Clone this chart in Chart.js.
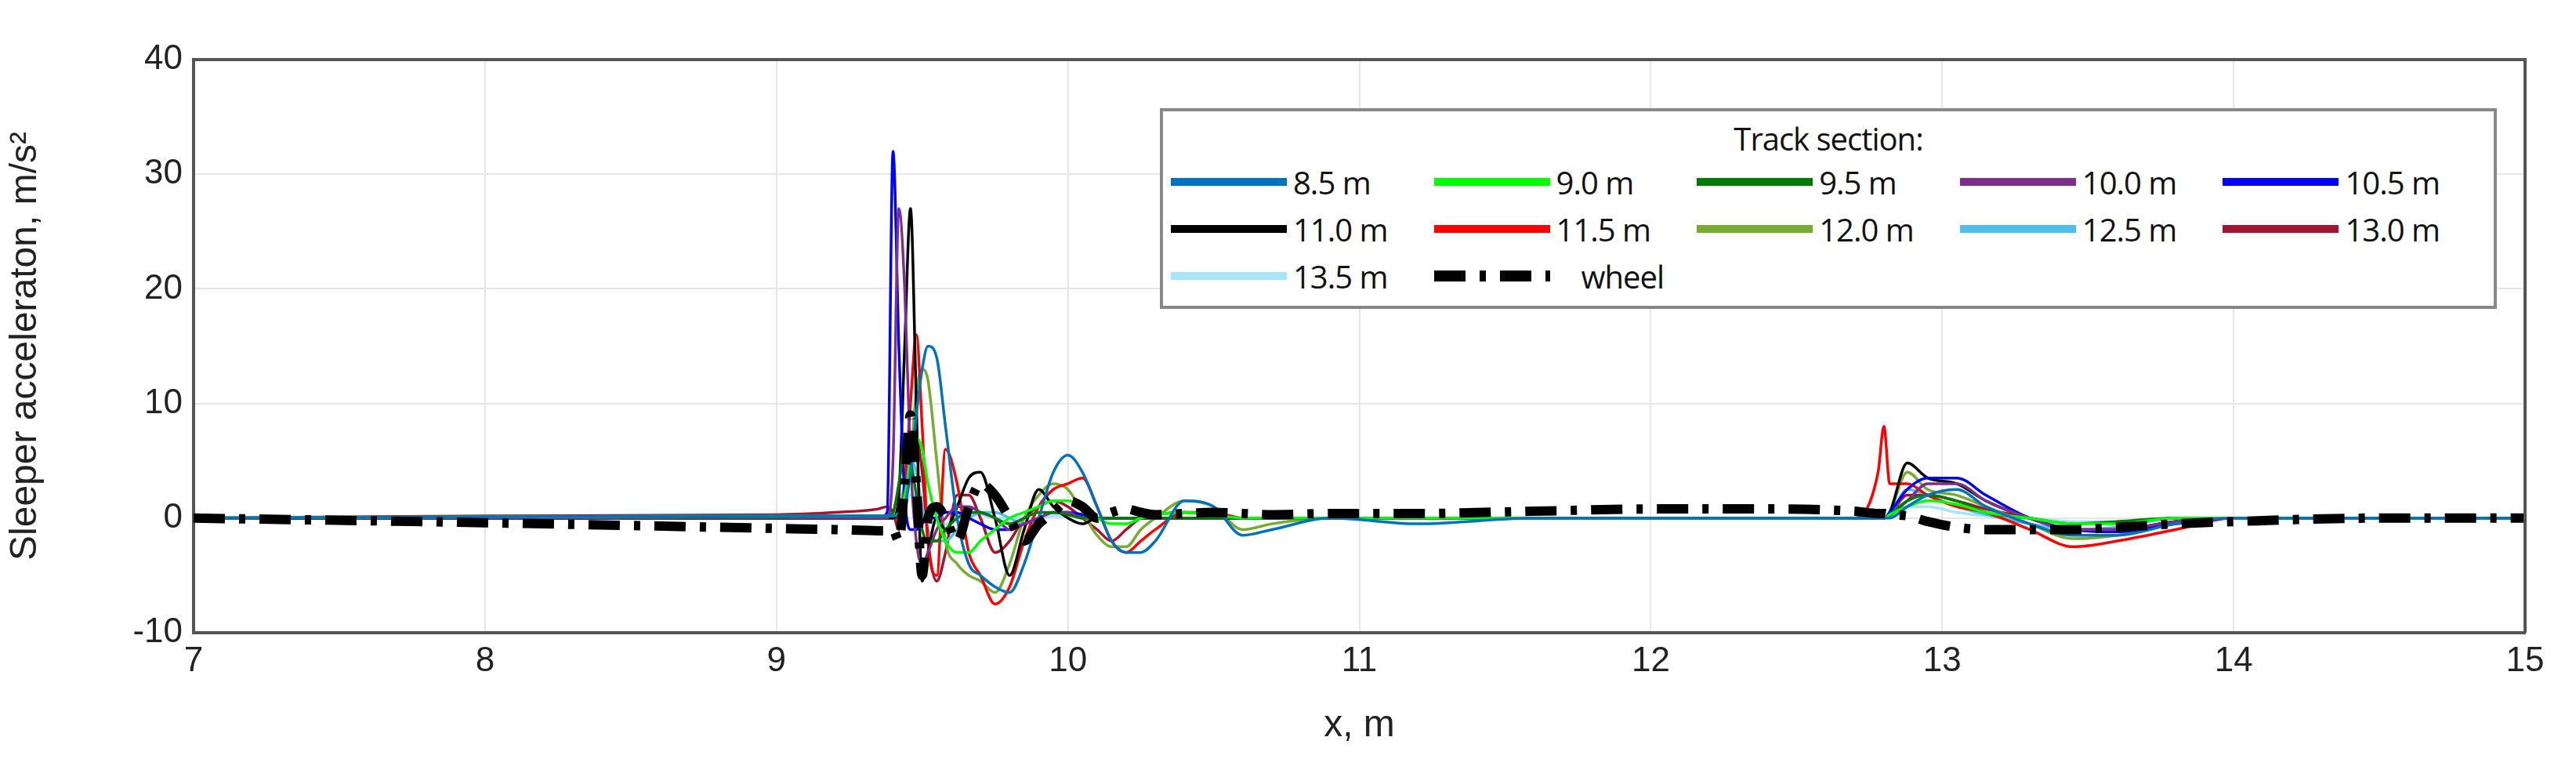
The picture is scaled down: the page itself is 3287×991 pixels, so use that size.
<!DOCTYPE html>
<html>
<head>
<meta charset="utf-8">
<script src="https://cdn.jsdelivr.net/npm/chart.js@4/dist/chart.umd.min.js"></script>
<style>
  html, body { margin: 0; padding: 0; background: #fff; }
  #wrap { position: relative; width: 3287px; height: 991px; }
  #legend {
    position: absolute; left: 1480px; top: 138px; width: 1706px; height: 256px;
    border: 4px solid #888; background: #fff; box-sizing: border-box;
    font-family: "Open Sans", sans-serif; font-size: 40px; color: #111; letter-spacing: -1px;
  }
  #legend .title { text-align: center; margin-top: 10px; height: 50px; line-height: 50px; }
  #legend .grid { display: grid; grid-template-columns: repeat(5, 1fr); padding: 0 10px; }
  #legend .item { display: flex; align-items: center; height: 60px; }
  #legend .sw { width: 148px; height: 10px; margin-right: 8px; }
</style>
</head>
<body>
<div id="wrap">
  <canvas id="chart" width="3287" height="991"></canvas>
  <div id="legend"><div class="title">Track section:</div><div class="grid" id="legend-grid"></div></div>
</div>
<script>
const xs = [7, 8, 9, 9.2, 9.35, 9.38, 9.4, 9.42, 9.44, 9.46, 9.48, 9.5, 9.52, 9.55, 9.58, 9.62, 9.66, 9.7, 9.75, 9.8, 9.85, 9.9, 9.95, 10.0, 10.05, 10.1, 10.15, 10.2, 10.25, 10.3, 10.4, 10.5, 10.6, 10.7, 10.9, 11.2, 11.6, 12.0, 12.4, 12.7, 12.78, 12.8, 12.82, 12.88, 12.95, 13.05, 13.15, 13.3, 13.45, 13.6, 13.8, 14.0, 14.5, 15];

const labels = ['8.5 m', '9.0 m', '9.5 m', '10.0 m', '10.5 m', '11.0 m', '11.5 m', '12.0 m', '12.5 m', '13.0 m', '13.5 m', 'wheel'];
const colors = ['#0072bd', '#00ff00', '#007a00', '#7e2f8e', '#0000ff', '#000000', '#ff0000', '#77ac30', '#4dbeee', '#a2142f', '#a8e4ff', '#000000'];

const s85  = [0, 0.1, 0.2, 0.2, 0.2, 0.2, 0.2, 0.3, 1, 4, 9, 13, 15, 14, 8, 0, -4, -5, -6, -6.5, -4, 0, 4, 5.5, 4, 1, -2, -3, -3, -2, 1.5, 1, -1.5, -1, 0, -0.5, 0, 0, 0, 0, 0, 0, 0, 1, 2, 2.5, 1, -0.5, -1.5, -1.5, -0.5, 0, 0, 0];
const s90  = [0, 0.1, 0.2, 0.2, 0.2, 0.2, 0.2, 0.5, 2, 5, 7, 6, 3, 0, -2, -3, -3, -2, -1, 0, 0.5, 1, 1.5, 1.5, 1, 0, -0.5, -0.5, 0, 0.3, 0.5, 0.3, 0, 0, 0, 0, 0, 0, 0, 0, 0, 0, 0.3, 1, 1.5, 1.2, 0.5, 0, -0.5, -0.5, 0, 0, 0, 0];
const s95  = [0, 0.1, 0.1, 0.2, 0.2, 0.2, 0.5, 3, 6, 5, 2, -1, -2, -2, -1, 0, 0.5, 0.5, 0, -0.5, 0, 0.5, 0.5, 0.3, 0, 0, 0, 0, 0, 0, 0, 0, 0, 0, 0, 0, 0, 0, 0, 0, 0, 0, 0.3, 1.5, 2, 1.5, 0.5, 0, -0.5, -0.3, 0, 0, 0, 0];
const s100 = [0, 0, 0, 0, 0, 0, 5, 27, 20, 5, -2, -4, -3, -1, 0, 1, 1, 0.5, 0, -1, -0.5, 0, 0.5, 0.5, 0, 0, 0, 0, 0, 0, 0, 0, 0, 0, 0, 0, 0, 0, 0, 0, 0, 0, 0.2, 1.5, 3, 3, 1.5, 0, -1, -1, -0.3, 0, 0, 0];
const s105 = [0, 0, 0, 0, 0, 0.5, 32, 15, 2, -1, -1, -0.5, 0, 0, 0.5, 0.5, 0, -0.5, -1, -1, -0.5, 0, 0.5, 0.5, 0.3, 0, 0, 0, 0, 0, 0, 0, 0, 0, 0, 0, 0, 0, 0, 0, 0, 0, 0.5, 2.5, 3.5, 3.5, 2, 0, -1, -1.2, -0.5, 0, 0, 0];
const s110 = [0, 0, 0, 0, 0, 0, 0, 2, 15, 27, 10, -5.5, -3, 0, -1, 1, 3.5, 4, 0, -5, -1, 2.5, 1, 0, -0.5, 0, 0, 0, 0, 0, 0, 0, 0, 0, 0, 0, 0, 0, 0, 0, 0, 0, 0.5, 4.8, 3.5, 3, 1.5, 0, -1, -1, -0.3, 0, 0, 0];
const s115 = [0, 0, 0, 0, 0, 0, 0, 0, 3, 10, 16, 8, -2, -5, 6, 3, -3, -5, -7.5, -6, -2, 1, 2.5, 3, 3.5, 1, -2, -3, -2, -1, 0.5, 0.5, 0, 0, 0, 0, 0, 0, 0, 0, 4, 8, 3, 3, 2, 1, 0.5, -1, -2.5, -2, -1, 0, 0, 0];
const s120 = [0, 0, 0, 0, 0, 0, 0, 0, 1, 5, 11, 13, 12, 5, -2, -4, -5, -5.5, -6.5, -4, 0, 2, 3, 2.5, 0.5, -1.5, -2.5, -2.5, -1, 0, 1.5, 1, -1, -0.5, 0, 0, 0, 0, 0, 0, 0, 0, 0.5, 4, 2.5, 2, 1, -0.5, -1.8, -1.5, -0.5, 0, 0, 0];
const s125 = [0, 0, 0, 0, 0, 0, 0.2, 1, 3, 5, 4, 1, -1, -2, -2, -1, 0, 0.5, 0.5, 0, -0.5, 0, 0.5, 0.5, 0, 0, 0, 0, 0, 0, 0, 0, 0, 0, 0, 0, 0, 0, 0, 0, 0, 0, 0.3, 2.5, 2, 1, 0.3, -0.5, -1, -0.8, 0, 0, 0, 0];
const s130 = [0, 0.2, 0.3, 0.5, 0.8, 1, 0.5, -1, 1, 5, 7, 4, -2, -5.5, -3, 2, 2, 0, -3, -2, 0, 1, 1.5, 1, 0, -1, -2, -1, 0, 0.3, 0.5, 0.3, 0, 0, 0, 0, 0, 0, 0, 0, 0, 0, 0.3, 2, 2, 1.5, 0.8, 0, -1, -1, -0.3, 0, 0, 0];
const s135 = [0, 0, 0, 0, 0, 0, 0.1, 0.3, 1, 2, 2, 1, 0, -0.5, -0.5, 0, 0.3, 0.3, 0, 0, 0, 0, 0.2, 0.2, 0, 0, 0, 0, 0, 0, 0, 0, 0, 0, 0, 0, 0, 0, 0, 0, 0, 0, 0.2, 1, 1, 0.5, 0.2, 0, -0.3, -0.3, 0, 0, 0, 0];
const wheel = [0, -0.4, -0.9, -1, -1.1, -1.1, -1, -2, 3, 9, 3, -5, 0, 1, 0, -2, 1, 3, 2, 0, -2, -0.5, 0.5, 1.5, 1, 0, 0.5, 0.8, 0.5, 0.3, 0.4, 0.5, 0.4, 0.3, 0.4, 0.4, 0.6, 0.8, 0.8, 0.6, 0.4, 0.4, 0.3, 0.2, -0.3, -0.8, -1, -1, -1, -0.8, -0.5, -0.3, 0, 0];

const series = [s85, s90, s95, s100, s105, s110, s115, s120, s125, s130, s135, wheel];

const datasets = series.map((ys, i) => {
    const isWheel = labels[i] === 'wheel';
    return {
        label: labels[i],
        data: xs.map((x, j) => ({ x: x, y: ys[j] })),
        borderColor: colors[i],
        borderWidth: isWheel ? 12 : 3.5,
        borderDash: isWheel ? [40, 18, 8, 18] : [],
        pointRadius: 0,
        cubicInterpolationMode: 'monotone',
        order: isWheel ? 0 : 1
    };
});

// legend in the upper right box
const grid = document.getElementById('legend-grid');
grid.innerHTML = labels.map((lab, i) => {
    const sw = lab === 'wheel'
        ? `<span class="sw" style="height:14px;margin-right:40px;background:repeating-linear-gradient(90deg,#000 0 40px,#fff 40px 58px,#000 58px 66px,#fff 66px 84px);"></span>`
        : `<span class="sw" style="background:${colors[i]}"></span>`;
    return `<div class="item">${sw}<span>${lab}</span></div>`;
}).join('');

const ctx = document.getElementById('chart').getContext('2d');
new Chart(ctx, {
    type: 'line',
    data: { datasets: datasets },
    options: {
        responsive: false,
        animation: false,
        layout: { padding: { top: 76, right: 65, left: 0, bottom: 36 } },
        plugins: { legend: { display: false }, tooltip: { enabled: false } },
        scales: {
            x: {
                type: 'linear', min: 7, max: 15,
                ticks: { stepSize: 1, color: '#222', font: { family: 'Liberation Sans', size: 44 }, padding: 10 },
                grid: { color: '#e6e6e6', lineWidth: 2, tickLength: 0 },
                border: { color: '#555', width: 4 },
                title: { display: true, text: 'x, m', color: '#222', font: { family: 'Liberation Sans', size: 48 }, padding: 0 },
                afterFit: s => { s.height = 148; }
            },
            y: {
                min: -10, max: 40,
                ticks: { stepSize: 10, color: '#222', font: { family: 'Liberation Sans', size: 44 }, padding: 14 },
                grid: { color: '#e6e6e6', lineWidth: 2, tickLength: 0 },
                border: { color: '#555', width: 4 },
                title: { display: true, text: 'Sleeper acceleraton, m/s²', color: '#222', font: { family: 'Liberation Sans', size: 48 } },
                afterFit: s => { s.width = 247; }
            }
        }
    },
    plugins: [{
        id: 'frame',
        afterDraw(chart) {
            const a = chart.chartArea, c = chart.ctx;
            c.save();
            c.strokeStyle = '#555';
            c.lineWidth = 4;
            c.beginPath();
            c.moveTo(a.left, a.top); c.lineTo(a.right, a.top); c.lineTo(a.right, a.bottom);
            c.stroke();
            c.restore();
        }
    }]
});
</script>
</body>
</html>
